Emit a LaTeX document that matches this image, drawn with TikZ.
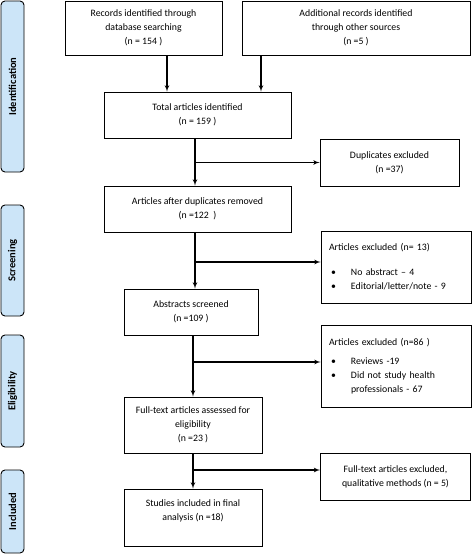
\documentclass[tikz,border=0pt]{standalone}
\usepackage{fontspec}
\setmainfont{Carlito}
\usetikzlibrary{calc}
\usetikzlibrary{arrows}

\definecolor{sideblue}{HTML}{CCE5F8}
\newcommand{\bul}{\makebox[22pt][l]{\hspace{2pt}\textbullet}}

\begin{document}
\begin{tikzpicture}  [x=1pt, y=-1pt, font=\fontsize{9.8}{14}\selectfont,
  box/.style={draw, line width=.9pt, align=center, inner sep=0pt},
  sidebar/.style={draw, line width=.9pt, fill=sideblue, rounded corners=4pt, rotate=90, minimum height=23pt, inner sep=0pt, font=\fontsize{10.5}{12}\selectfont\bfseries},
  arr/.style={->, >=latex', line width=1.1pt}]
\useasboundingbox (0,0) rectangle (473,554);

% phase bars on the left
\foreach \ya/\yb/\lab/\nm in {1/172/Identification/sidea, 205/316/Screening/sideb, 335/447/Eligibility/sidec, 470/553/Included/sided}
  \node[sidebar, minimum width={\yb-\ya}] (\nm) at (12.5,{(\ya+\yb)/2}) {\lab};

% boxes
\node[box, minimum width=157, minimum height=54] (rec) at (143.5,28) {Records identified through\\database searching\\(n = 154 )};
\node[box, minimum width=228, minimum height=54] (add) at (356,28) {Additional records identified\\through other sources\\(n =5 )};
\node[box, minimum width=187, minimum height=46] (tot) at (197.5,115) {Total articles identified\\(n = 159 )};
\node[box, minimum width=139, minimum height=47] (dup) at (389.5,162.5) {Duplicates excluded\\(n =37)};
\node[box, minimum width=187, minimum height=46] (aft) at (197.5,209) {Articles after duplicates removed\\(n =122~ )};
\node[box, minimum width=150, minimum height=72, text width=134, align=left] (exca) at (396,267) {Articles excluded (n= 13)\\[11pt]\bul No abstract -- 4\\\bul Editorial/letter/note - 9};
\node[box, minimum width=134, minimum height=46] (abs) at (191,312) {Abstracts screened\\(n =109 )};
\node[box, minimum width=150, minimum height=82, text width=134, align=left] (excb) at (396,366) {Articles excluded (n=86 )\\[5pt]\bul Reviews -19\\\bul Did not study health\\\hspace*{22pt}professionals - 67};
\node[box, minimum width=138, minimum height=56] (ful) at (193,425) {Full-text articles assessed for\\eligibility\\(n =23 )};
\node[box, minimum width=150, minimum height=47] (excc) at (395.5,476.5) {Full-text articles excluded,\\qualitative methods (n = 5)};
\node[box, minimum width=138, minimum height=57] (stu) at (193,517.5) {Studies included in final\\analysis (n =18)\\~};

% connectors
\coordinate (ca) at (167,0);
\coordinate (cb) at (261,0);
\coordinate (cc) at (195,0);
\coordinate (cd) at (193,0);
\coordinate (ba) at (0,262);
\coordinate (bb) at (0,362);
\coordinate (bc) at (0,470);
\draw[arr] (rec.south -| ca) -- (tot.north -| ca);
\draw[arr] (add.south -| cb) -- (tot.north -| cb);
\draw[arr] (tot.south -| cc) -- (aft.north -| cc);
\draw[arr] (cc |- dup.west) -- (dup.west);
\draw[arr] (aft.south -| cc) -- (abs.north -| cc);
\draw[arr] (cc |- ba) -- (exca.west |- ba);
\draw[arr] (abs.south -| cd) -- (ful.north -| cd);
\draw[arr] (cd |- bb) -- (excb.west |- bb);
\draw[arr] (ful.south) -- (stu.north);
\draw[arr] (cd |- bc) -- (excc.west |- bc);

\end{tikzpicture}
\end{document}
